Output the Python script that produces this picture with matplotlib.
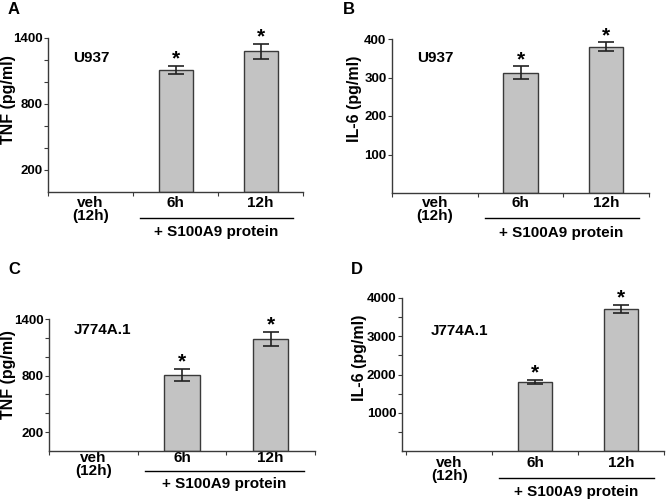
import numpy as np
import matplotlib
matplotlib.use("Agg")
import matplotlib.pyplot as plt
from matplotlib.transforms import offset_copy

plt.rcParams['font.family'] = ['Liberation Sans', 'DejaVu Sans']
plt.rcParams['font.weight'] = 'bold'

# data
groups = ["veh\n(12h)", "6h", "12h"]
treat_label = "+ S100A9 protein"

tnf_u937 = [1110, 1280]
tnf_u937_err = [40, 70]
il6_u937 = [312, 380]
il6_u937_err = [17, 11]
tnf_j774 = [810, 1190]
tnf_j774_err = [65, 75]
il6_j774 = [1810, 3710]
il6_j774_err = [55, 115]

# layout: rect in pixels (left, top, right, bottom); lines = (tick label top, underline, protein text) px below axis
panels = [
    dict(letter="A", cell="U937", ylabel="TNF (pg/ml)", vals=tnf_u937, err=tnf_u937_err,
         ylim=1400, ticks=np.arange(200, 1401, 200), labelled=[200, 800, 1400],
         rect=[48, 38, 303, 192], xlim=(-0.48, 2.42), lines=(4, 26, 40),
         cellpos=(0.10, 0.87), ylab=(16, 100), lab=(14, 10)),
    dict(letter="B", cell="U937", ylabel="IL-6 (pg/ml)", vals=il6_u937, err=il6_u937_err,
         ylim=400, ticks=np.arange(100, 401, 100), labelled=[100, 200, 300, 400],
         rect=[392, 39, 649, 193], xlim=(-0.5, 2.42), lines=(3, 25, 40),
         cellpos=(0.097, 0.877), ylab=(362, 99), lab=(349, 10)),
    dict(letter="C", cell="J774A.1", ylabel="TNF (pg/ml)", vals=tnf_j774, err=tnf_j774_err,
         ylim=1400, ticks=np.arange(200, 1401, 200), labelled=[200, 800, 1400],
         rect=[49, 319, 315, 451], xlim=(-0.5, 2.5), lines=(0, 20, 33),
         cellpos=(0.094, 0.917), ylab=(16, 375), lab=(14, 270)),
    dict(letter="D", cell="J774A.1", ylabel="IL-6 (pg/ml)", vals=il6_j774, err=il6_j774_err,
         ylim=4000, ticks=np.arange(500, 4001, 500), labelled=[1000, 2000, 3000, 4000],
         rect=[402, 298, 664, 451], xlim=(-0.55, 2.5), lines=(5, 27, 41),
         cellpos=(0.11, 0.784), ylab=(367, 358), lab=(357, 269)),
]

W, H = 668, 503
fig = plt.figure(figsize=(W / 100, H / 100), dpi=100)

edge = "#3a3a3a"
x = np.arange(len(groups))

for p in panels:
    l, t, r, b = p["rect"]
    ax = fig.add_axes([l / W, 1 - b / H, (r - l) / W, (b - t) / H])
    ax.bar(x[1:], p["vals"], width=0.4, color="#c3c3c3", edgecolor=edge, linewidth=1)
    ax.errorbar(x[1:], p["vals"], yerr=p["err"], fmt="none", ecolor="#222222",
                elinewidth=1.2, capsize=6, capthick=1.2)
    for xi, v, e in zip(x[1:], p["vals"], p["err"]):
        ax.annotate("*", (xi, v + e), xytext=(0, -2), textcoords="offset points",
                    ha="center", va="bottom", fontsize=15, fontweight="bold")

    ax.set_xlim(*p["xlim"])
    ax.set_ylim(0, p["ylim"])
    ax.set_yticks(p["ticks"])
    ax.set_yticklabels([str(v) if v in p["labelled"] else "" for v in p["ticks"]],
                       fontsize=9.5, fontweight="bold")
    ax.set_xticks(x)
    ax.set_xticklabels(groups, fontsize=11, fontweight="bold", linespacing=0.95)
    ax.set_xticks([-0.5, 0.5, 1.5, 2.5], minor=True)
    ax.tick_params(axis="x", which="major", length=0, pad=p["lines"][0] / 1.389)
    ax.tick_params(axis="x", which="minor", length=3, width=0.8, color=edge)
    ax.tick_params(axis="y", length=3, width=0.8, color=edge, pad=1)
    for s in ["top", "right"]:
        ax.spines[s].set_visible(False)
    for s in ["left", "bottom"]:
        ax.spines[s].set_color(edge)
        ax.spines[s].set_linewidth(1)

    ax.set_ylabel(p["ylabel"], fontsize=11.5, fontweight="bold")
    yx, yy = p["ylab"]
    ax.yaxis.set_label_coords((yx - l) / (r - l), (b - yy) / (b - t))

    # bracket line under treated groups
    tr = offset_copy(ax.get_xaxis_transform(), fig=fig, x=0, y=-p["lines"][1], units="dots")
    ax.plot([0.58, 2.38], [0, 0], color="black", lw=1, transform=tr, clip_on=False)
    tr2 = offset_copy(ax.get_xaxis_transform(), fig=fig, x=0, y=-p["lines"][2], units="dots")
    ax.text(1.48, 0, treat_label, transform=tr2, ha="center", va="center",
            fontsize=11, fontweight="bold")

    ax.text(*p["cellpos"], p["cell"], transform=ax.transAxes,
            fontsize=11, fontweight="bold", ha="left", va="center")

    lx, ly = p["lab"]
    fig.text(lx / W, 1 - ly / H, p["letter"], fontsize=12, fontweight="bold",
             ha="center", va="center")

fig.savefig("out.png", dpi=100)
